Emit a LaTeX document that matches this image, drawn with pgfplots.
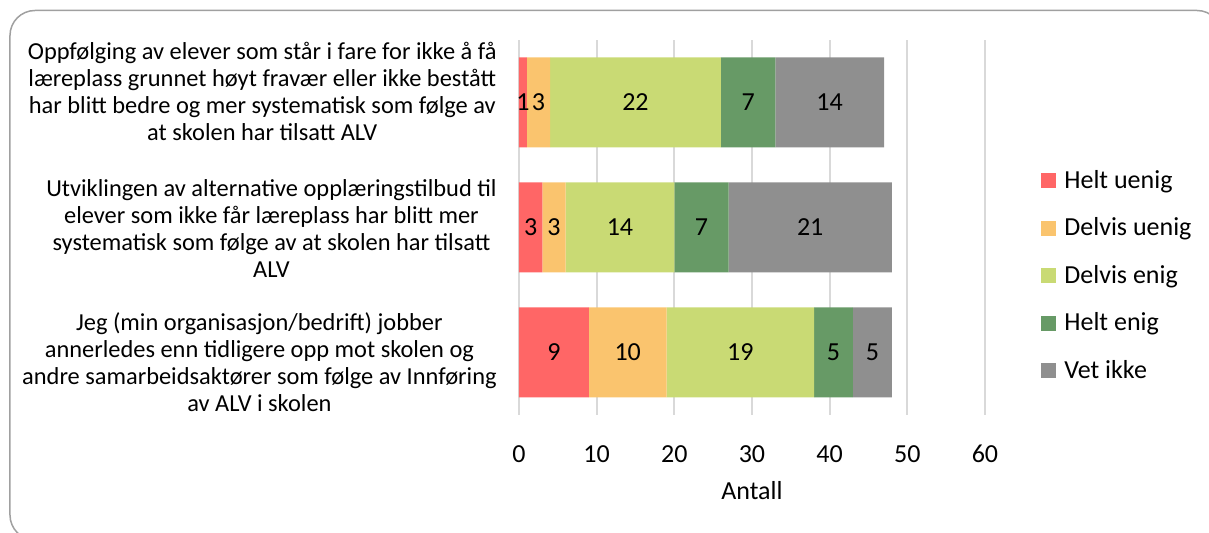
\documentclass[border=0pt]{standalone}
\usepackage{pgfplots}
\pgfplotsset{compat=1.18}
\usepackage{pgfplotstable}
\usepackage{fontspec}
\setmainfont{Carlito}

\definecolor{cHu}{HTML}{FF6666}
\definecolor{cDu}{HTML}{FAC46E}
\definecolor{cDe}{HTML}{C9DA74}
\definecolor{cHe}{HTML}{679A66}
\definecolor{cVi}{HTML}{8F8F8F}
\definecolor{gridc}{HTML}{D9D9D9}
\definecolor{framec}{HTML}{A0A0A0}

% y: 2 = top bar
\pgfplotstableread{
y hu du de he vi
2 1 3 22 7 14
1 3 3 14 7 21
0 9 10 19 5 5
}\svar

\begin{document}
\begin{tikzpicture}
\useasboundingbox (-259.5pt,-59pt) rectangle (345pt,207.5pt);
\begin{scope}
\clip (-259.5pt,-59pt) rectangle (345pt,207.5pt);
\draw[framec, line width=0.75pt, rounded corners=12.5pt] (-254.5pt,-62.5pt) rectangle (351.5pt,202.25pt);
\end{scope}
\begin{axis}[
  at={(0,0)}, anchor=south west,
  scale only axis, width=233pt, height=187.5pt,
  xbar stacked, bar width=45pt,
  xmin=0, xmax=60, ymin=-0.5, ymax=2.5,
  xtick={0,10,...,60}, ytick={-0.08,0.988,2.092},
  yticklabels={
    {Jeg (min organisasjon/bedrift) jobber\\annerledes enn tidligere opp mot skolen og\\andre samarbeidsaktører som følge av Innføring\\av ALV i skolen},
    {Utviklingen av alternative opplæringstilbud til\\elever som ikke får læreplass har blitt mer\\systematisk som følge av at skolen har tilsatt\\ALV},
    {Oppfølging av elever som står i fare for ikke å få\\læreplass grunnet høyt fravær eller ikke bestått\\har blitt bedre og mer systematisk som følge av\\at skolen har tilsatt ALV}},
  yticklabel style={align=center, anchor=east, inner sep=0pt, xshift=-11pt, font=\fontsize{12.2}{13.5}\selectfont},
  xticklabel style={inner sep=0pt, yshift=-15pt, font=\fontsize{13}{15}\selectfont},
  /pgf/number format/assume math mode=true,
  xlabel={Antall},
  xlabel style={at={(axis description cs:0.5,0)}, anchor=north, inner sep=0pt, yshift=-33pt, font=\fontsize{13}{15}\selectfont},
  axis line style={draw=none},
  major tick length=0pt,
  xmajorgrids, grid style={gridc, line width=1pt},
  point meta=explicit symbolic,
  nodes near coords,
  every node near coord/.append style={anchor=center, inner sep=0pt, font=\fontsize{13}{15}\selectfont, black},
  legend style={draw=none, fill=none, inner sep=0pt, at={(1.1202,0.6453)}, anchor=north west,
    row sep=14.2pt, column sep=4pt,
    nodes={inner sep=0pt, text height=7pt, text depth=2pt, font=\fontsize{13}{15}\selectfont}},
  legend cell align=left,
  legend image code/.code={\fill[#1] (0pt,-2.5pt) rectangle (7.5pt,5pt);},
]
\addplot[fill=cHu, draw=none] table[x=hu, y=y, meta=hu]{\svar};
\addplot[fill=cDu, draw=none] table[x=du, y=y, meta=du]{\svar};
\addplot[fill=cDe, draw=none] table[x=de, y=y, meta=de]{\svar};
\addplot[fill=cHe, draw=none] table[x=he, y=y, meta=he]{\svar};
\addplot[fill=cVi, draw=none] table[x=vi, y=y, meta=vi]{\svar};
\legend{Helt uenig, Delvis uenig, Delvis enig, Helt enig, Vet ikke}
\end{axis}
\end{tikzpicture}
\end{document}
